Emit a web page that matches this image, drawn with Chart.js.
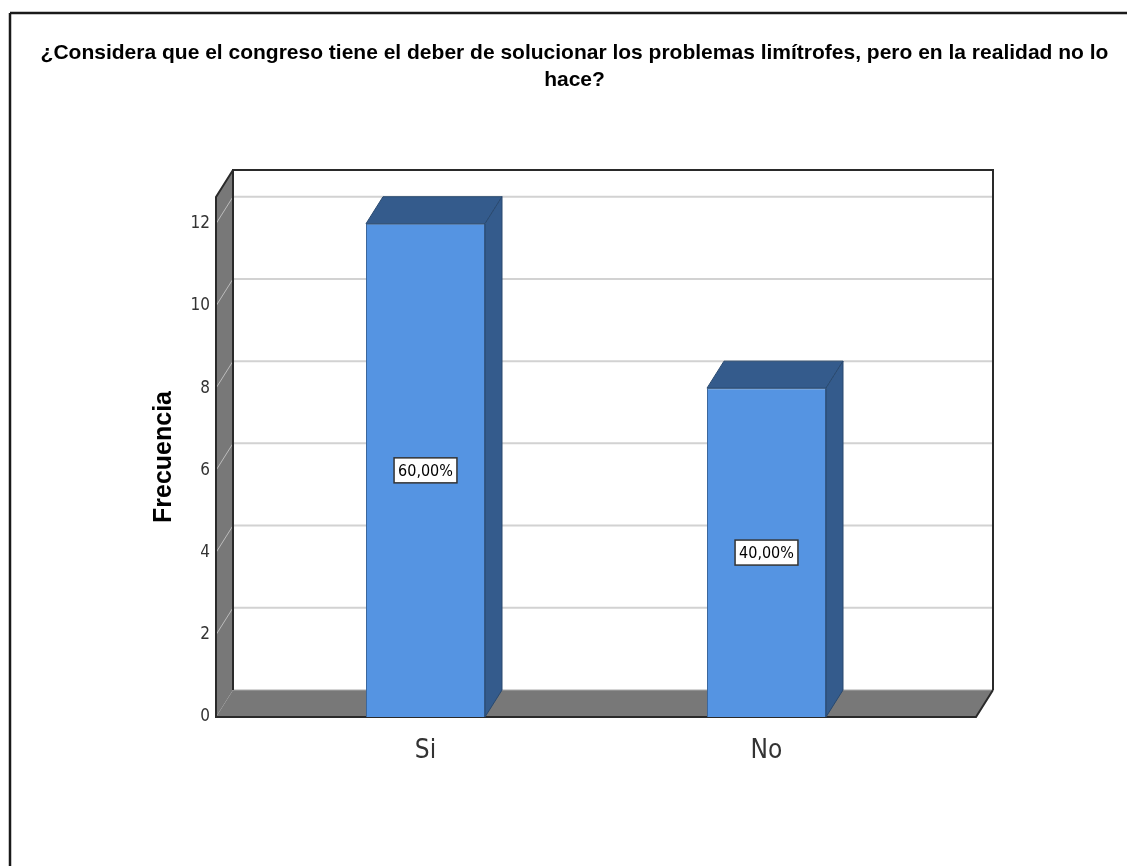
<!DOCTYPE html>
<html>
<head>
<meta charset="utf-8">
<script src="https://cdn.jsdelivr.net/npm/chart.js@4.4.0/dist/chart.umd.min.js"></script>
<style>
  html, body { margin: 0; padding: 0; background: #fff; }
  #wrap { width: 1127px; height: 866px; position: relative; }
</style>
</head>
<body>
<div id="wrap"><canvas id="myChart"></canvas></div>
<script>
const categories = ['Si', 'No'];
const frequencies = [12, 8];
const yTicks = [0, 2, 4, 6, 8, 10, 12];
const titleLines = [
    '¿Considera que el congreso tiene el deber de solucionar los problemas limítrofes, pero en la realidad no lo',
    'hace?'
];

const narrow = "'Liberation Sans Narrow', 'Arial Narrow', 'DejaVu Sans Condensed', sans-serif";
const total = frequencies.reduce((a, b) => a + b, 0);

// depth of the fake 3D box (SPSS style)
const DX = 17, DY = 27, EXT = 39;

function poly(ctx, pts, fill, stroke, lw) {
    ctx.beginPath();
    ctx.moveTo(pts[0][0], pts[0][1]);
    for (let i = 1; i < pts.length; i++) ctx.lineTo(pts[i][0], pts[i][1]);
    ctx.closePath();
    if (fill) { ctx.fillStyle = fill; ctx.fill(); }
    if (stroke) { ctx.strokeStyle = stroke; ctx.lineWidth = lw || 1; ctx.stroke(); }
}

function line(ctx, x1, y1, x2, y2) {
    ctx.beginPath();
    ctx.moveTo(x1, y1);
    ctx.lineTo(x2, y2);
    ctx.stroke();
}

const box3d = {
    id: 'box3d',
    beforeDraw(chart) {
        const ctx = chart.ctx;
        ctx.save();
        ctx.strokeStyle = '#1a1a1a';
        ctx.lineWidth = 2.5;
        line(ctx, 10, 13, 1127, 13);
        line(ctx, 10, 13, 10, 866);
        ctx.restore();
    },
    beforeDatasetsDraw(chart) {
        const ctx = chart.ctx;
        const ca = chart.chartArea;
        const ys = chart.scales.y;
        const xL = ca.left - EXT, xR = ca.right + EXT;
        const yTop = ca.top, y0 = ys.getPixelForValue(0);
        ctx.save();
        // gridlines on the back wall
        ctx.strokeStyle = '#d2d2d2';
        ctx.lineWidth = 2;
        yTicks.forEach(v => {
            if (v === 0) return;
            const py = ys.getPixelForValue(v) - DY;
            line(ctx, xL + DX, py, xR + DX, py);
        });
        // left wall
        poly(ctx, [[xL, yTop], [xL + DX, yTop - DY], [xL + DX, y0 - DY], [xL, y0]], '#787878');
        ctx.strokeStyle = '#bcbcbc';
        ctx.lineWidth = 1;
        yTicks.forEach(v => {
            if (v === 0) return;
            const py = ys.getPixelForValue(v);
            line(ctx, xL, py, xL + DX, py - DY);
        });
        // floor
        poly(ctx, [[xL, y0], [xL + DX, y0 - DY], [xR + DX, y0 - DY], [xR, y0]], '#787878');
        ctx.strokeStyle = '#a8a8a8';
        ctx.lineWidth = 1;
        line(ctx, xL + DX, y0 - DY, xR + DX, y0 - DY);
        // edges
        ctx.strokeStyle = '#2a2a2a';
        ctx.lineWidth = 2;
        ctx.beginPath();
        ctx.moveTo(xL + DX, y0 - DY);
        ctx.lineTo(xL + DX, yTop - DY);
        ctx.lineTo(xR + DX, yTop - DY);
        ctx.lineTo(xR + DX, y0 - DY);
        ctx.stroke();
        ctx.beginPath();
        ctx.moveTo(xL + DX, yTop - DY);
        ctx.lineTo(xL, yTop);
        ctx.lineTo(xL, y0);
        ctx.lineTo(xR, y0);
        ctx.lineTo(xR + DX, y0 - DY);
        ctx.stroke();
        ctx.restore();
    },
    afterDatasetsDraw(chart) {
        const ctx = chart.ctx;
        const ys = chart.scales.y;
        const meta = chart.getDatasetMeta(0);
        ctx.save();
        meta.data.forEach((bar, i) => {
            const p = bar.getProps(['x', 'y', 'width', 'base'], true);
            const l = p.x - p.width / 2, r = p.x + p.width / 2;
            poly(ctx, [[l, p.y], [l + DX, p.y - DY], [r + DX, p.y - DY], [r, p.y]], '#345b8c', '#29496f', 1);
            poly(ctx, [[r, p.y], [r + DX, p.y - DY], [r + DX, p.base - DY], [r, p.base]], '#345b8c', '#29496f', 1);

            // percentage label in the middle of the bar
            const txt = (frequencies[i] / total * 100).toFixed(2).replace('.', ',') + '%';
            const cy = ys.getPixelForValue(frequencies[i] / 2);
            ctx.font = '16px ' + narrow;
            const w = ctx.measureText(txt).width + 8, h = 25;
            ctx.fillStyle = '#ffffff';
            ctx.fillRect(p.x - w / 2, cy - h / 2, w, h);
            ctx.strokeStyle = '#333333';
            ctx.lineWidth = 1.5;
            ctx.strokeRect(p.x - w / 2, cy - h / 2, w, h);
            ctx.fillStyle = '#000000';
            ctx.textAlign = 'center';
            ctx.textBaseline = 'middle';
            ctx.fillText(txt, p.x, cy + 1);
        });
        ctx.restore();
    }
};

const ctx = document.getElementById('myChart').getContext('2d');

new Chart(ctx, {
    type: 'bar',
    data: {
        labels: categories,
        datasets: [{
            label: 'Frecuencia',
            data: frequencies,
            backgroundColor: '#5594e2',
            borderColor: '#3d679c',
            borderWidth: 1,
            barPercentage: 0.349,
            categoryPercentage: 1
        }]
    },
    plugins: [box3d],
    options: {
        responsive: true,
        maintainAspectRatio: false,
        animation: false,
        layout: {
            padding: { top: 40, left: 22, right: 0, bottom: 0 }
        },
        plugins: {
            legend: { display: false },
            tooltip: { enabled: false },
            title: {
                display: true,
                text: titleLines,
                color: '#000',
                font: { family: "'Liberation Sans', Arial, sans-serif", size: 21, weight: 'bold', lineHeight: '27px' },
                padding: { top: 0, bottom: 103 }
            }
        },
        scales: {
            x: {
                grid: { display: false },
                border: { display: false },
                ticks: {
                    color: '#333',
                    padding: 11,
                    font: { family: narrow, size: 26 }
                },
                afterFit(s) { s.height = 149; }
            },
            y: {
                min: 0,
                max: 12.65,
                grid: { display: false, drawTicks: false },
                border: { display: false },
                ticks: {
                    stepSize: 2,
                    includeBounds: false,
                    padding: 45,
                    color: '#333',
                    font: { family: narrow, size: 17 }
                },
                title: {
                    display: true,
                    text: 'Frecuencia',
                    color: '#000',
                    font: { family: "'Liberation Sans', Arial, sans-serif", size: 25, weight: 'bold' },
                    padding: { top: 127, bottom: 0 }
                },
                afterFit(s) { s.width = 233; }
            },
            yr: {
                position: 'right',
                display: true,
                grid: { display: false },
                border: { display: false },
                ticks: { display: false },
                afterFit(s) { s.width = 190; }
            }
        }
    }
});
</script>
</body>
</html>
